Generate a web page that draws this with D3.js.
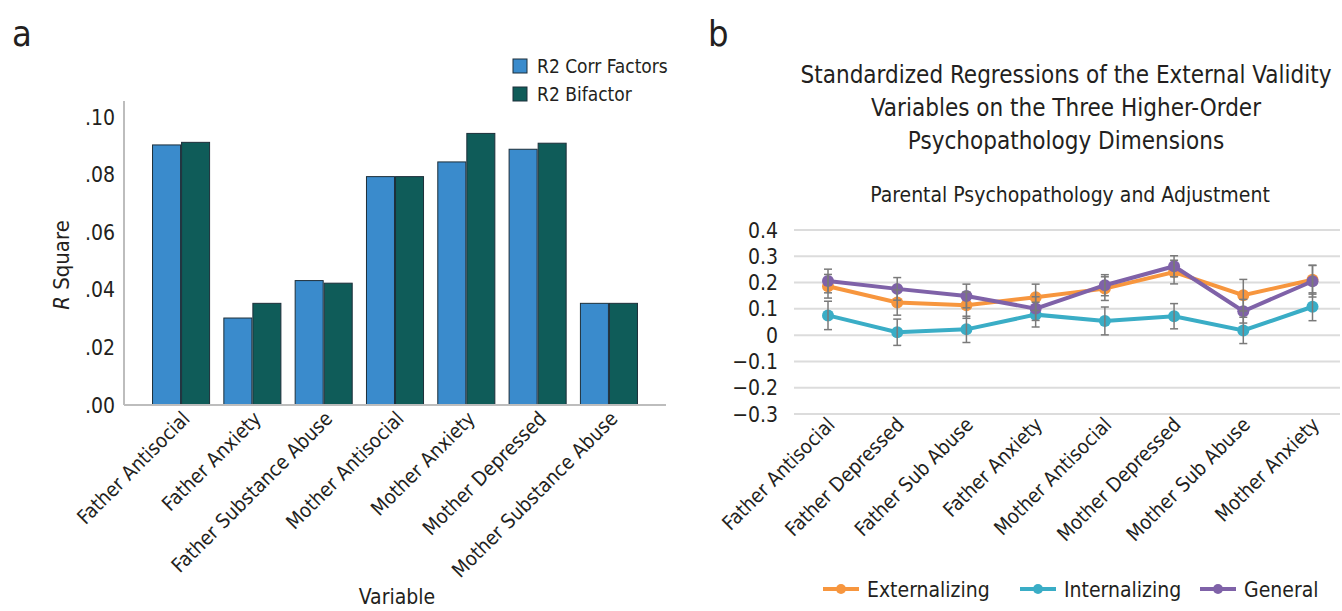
<!DOCTYPE html>
<html>
<head>
<meta charset="utf-8">
<script src="https://cdn.jsdelivr.net/npm/d3@7"></script>
<style>
  body { margin: 0; background: #fff; }
  text { font-family: "Liberation Sans Narrow", "DejaVu Sans Condensed", "Roboto", sans-serif; fill: #231f20; }
</style>
</head>
<body>
<div id="chart"></div>
<script>
// panel a data
var barCategories = ["Father Antisocial", "Father Anxiety", "Father Substance Abuse",
  "Mother Antisocial", "Mother Anxiety", "Mother Depressed", "Mother Substance Abuse"];
var barSeries = ["R2 Corr Factors", "R2 Bifactor"];
var r2Corr = [0.0903, 0.0302, 0.0432, 0.0793, 0.0844, 0.0888, 0.0353];
var r2Bifactor = [0.0912, 0.0353, 0.0423, 0.0793, 0.0943, 0.0909, 0.0353];
var barTicks = [0, 0.02, 0.04, 0.06, 0.08, 0.10];

// panel b data
var lineCategories = ["Father Antisocial", "Father Depressed", "Father Sub Abuse", "Father Anxiety",
  "Mother Antisocial", "Mother Depressed", "Mother Sub Abuse", "Mother Anxiety"];
var lineSeries = ["Externalizing", "Internalizing", "General"];
var externalizing = [0.186, 0.124, 0.114, 0.144, 0.177, 0.240, 0.152, 0.211];
var internalizing = [0.075, 0.011, 0.022, 0.078, 0.054, 0.072, 0.018, 0.108];
var general = [0.206, 0.176, 0.149, 0.101, 0.190, 0.262, 0.091, 0.205];
var externalizingErr = [0.045, 0.048, 0.05, 0.05, 0.045, 0.045, 0.06, 0.055];
var internalizingErr = [0.054, 0.05, 0.05, 0.047, 0.053, 0.048, 0.05, 0.053];
var generalErr = [0.045, 0.043, 0.045, 0.045, 0.04, 0.04, 0.045, 0.06];
var lineTicks = [0.4, 0.3, 0.2, 0.1, 0, -0.1, -0.2, -0.3];

var svg = d3.select("#chart").append("svg")
  .attr("width", 1342)
  .attr("height", 611);

// ---------- panel a ----------
var barColors = ["#3a8bcc", "#0f5c59"];

svg.append("text").attr("x", 12).attr("y", 46)
  .attr("font-size", "36px").text("a");

var xa = d3.scaleBand().domain(barCategories).range([124, 666]).paddingOuter(0.3).paddingInner(0);
var xaInner = d3.scaleBand().domain(barSeries).range([0, xa.bandwidth() * 0.8]).paddingInner(0.035);
var ya = d3.scaleLinear().domain([0, 0.10]).range([405, 117]);

// y axis line
svg.append("line").attr("x1", 124).attr("x2", 124).attr("y1", 101).attr("y2", 405)
  .attr("stroke", "#bdbdbd").attr("stroke-width", 2);

// y tick labels
svg.selectAll(".ya-tick").data(barTicks).enter().append("text")
  .attr("x", 115)
  .attr("y", function (d) { return ya(d); })
  .attr("dy", "0.36em")
  .attr("text-anchor", "end")
  .attr("font-size", "21px")
  .text(function (d) { return d3.format(".2f")(d).replace(/^0/, ""); });

var barData = [];
barCategories.forEach(function (c, i) {
  barData.push({ cat: c, series: barSeries[0], value: r2Corr[i], k: 0 });
  barData.push({ cat: c, series: barSeries[1], value: r2Bifactor[i], k: 1 });
});

svg.selectAll(".bar").data(barData).enter().append("rect")
  .attr("x", function (d) { return xa(d.cat) + xa.bandwidth() * 0.1 + xaInner(d.series); })
  .attr("y", function (d) { return ya(d.value); })
  .attr("width", xaInner.bandwidth())
  .attr("height", function (d) { return 405 - ya(d.value); })
  .attr("fill", function (d) { return barColors[d.k]; })
  .attr("stroke", "#1d2f3a")
  .attr("stroke-width", 1);

// x axis line
svg.append("line").attr("x1", 124).attr("x2", 666).attr("y1", 405).attr("y2", 405)
  .attr("stroke", "#bdbdbd").attr("stroke-width", 2);

// x tick labels
svg.selectAll(".xa-tick").data(barCategories).enter().append("text")
  .attr("text-anchor", "end")
  .attr("font-size", "20px")
  .attr("transform", function (d) {
    return "translate(" + (xa(d) + xa.bandwidth() / 2 + 10) + ",420) rotate(-45)";
  })
  .text(function (d) { return d; });

svg.append("text").attr("x", 397).attr("y", 604)
  .attr("text-anchor", "middle").attr("font-size", "21px").text("Variable");

var yTitle = svg.append("text")
  .attr("transform", "translate(69,265) rotate(-90)")
  .attr("text-anchor", "middle").attr("font-size", "22px");
yTitle.append("tspan").attr("font-style", "italic").text("R");
yTitle.append("tspan").text(" Square");

// legend a
var legA = svg.selectAll(".leg-a").data(barSeries).enter().append("g")
  .attr("transform", function (d, i) { return "translate(513," + (59 + i * 28) + ")"; });
legA.append("rect").attr("width", 14).attr("height", 14)
  .attr("fill", function (d, i) { return barColors[i]; })
  .attr("stroke", "#1d2f3a").attr("stroke-width", 1);
legA.append("text").attr("x", 24).attr("y", 7).attr("dy", "0.36em")
  .attr("font-size", "19px").text(function (d) { return d; });

// ---------- panel b ----------
var lineColors = ["#f7963e", "#3aadc6", "#7f62a8"];

svg.append("text").attr("x", 708).attr("y", 46)
  .attr("font-size", "36px").text("b");

var titleLines = ["Standardized Regressions of the External Validity",
  "Variables on the Three Higher-Order", "Psychopathology Dimensions"];
svg.selectAll(".title-b").data(titleLines).enter().append("text")
  .attr("x", 1066)
  .attr("y", function (d, i) { return 83 + i * 33; })
  .attr("text-anchor", "middle")
  .attr("font-size", "24px")
  .text(function (d) { return d; });

svg.append("text").attr("x", 1070).attr("y", 202)
  .attr("text-anchor", "middle").attr("font-size", "21px")
  .text("Parental Psychopathology and Adjustment");

var xb = d3.scalePoint().domain(lineCategories).range([828, 1312.5]);
var yb = d3.scaleLinear().domain([-0.3, 0.4]).range([414, 230]);

svg.selectAll(".grid-b").data(lineTicks).enter().append("line")
  .attr("x1", 794).attr("x2", 1340)
  .attr("y1", function (d) { return yb(d); })
  .attr("y2", function (d) { return yb(d); })
  .attr("stroke", "#dcdcdc").attr("stroke-width", 2);

svg.selectAll(".yb-tick").data(lineTicks).enter().append("text")
  .attr("x", 778)
  .attr("y", function (d) { return yb(d); })
  .attr("dy", "0.36em")
  .attr("text-anchor", "end")
  .attr("font-size", "21px")
  .text(function (d) { return d === 0 ? "0" : (d < 0 ? "\u2212" : "") + Math.abs(d).toFixed(1); });

svg.selectAll(".xb-tick").data(lineCategories).enter().append("text")
  .attr("text-anchor", "end")
  .attr("font-size", "20px")
  .attr("transform", function (d) {
    return "translate(" + (xb(d) + 8) + ",426) rotate(-45)";
  })
  .text(function (d) { return d; });

var seriesData = [
  { name: lineSeries[0], values: externalizing, err: externalizingErr, color: lineColors[0] },
  { name: lineSeries[1], values: internalizing, err: internalizingErr, color: lineColors[1] },
  { name: lineSeries[2], values: general, err: generalErr, color: lineColors[2] }
];

var line = d3.line()
  .x(function (d, i) { return xb(lineCategories[i]); })
  .y(function (d) { return yb(d); });

seriesData.forEach(function (s) {
  var g = svg.append("g");
  g.append("path").datum(s.values)
    .attr("d", line)
    .attr("fill", "none")
    .attr("stroke", s.color)
    .attr("stroke-width", 4);
  g.selectAll("circle").data(s.values).enter().append("circle")
    .attr("cx", function (d, i) { return xb(lineCategories[i]); })
    .attr("cy", function (d) { return yb(d); })
    .attr("r", 6)
    .attr("fill", s.color);
});

// error bars on top
seriesData.forEach(function (s) {
  var g = svg.append("g").attr("stroke", "#7a7a7a").attr("stroke-width", 1.5);
  s.values.forEach(function (v, i) {
    var x = xb(lineCategories[i]);
    var top = yb(v + s.err[i]), bot = yb(v - s.err[i]);
    g.append("line").attr("x1", x).attr("x2", x).attr("y1", top).attr("y2", bot);
    g.append("line").attr("x1", x - 4).attr("x2", x + 4).attr("y1", top).attr("y2", top);
    g.append("line").attr("x1", x - 4).attr("x2", x + 4).attr("y1", bot).attr("y2", bot);
  });
});

// legend b
var legX = [823, 1020, 1200];
var legB = svg.selectAll(".leg-b").data(seriesData).enter().append("g")
  .attr("transform", function (d, i) { return "translate(" + legX[i] + ",589)"; });
legB.append("line").attr("x1", 0).attr("x2", 36).attr("y1", 0).attr("y2", 0)
  .attr("stroke", function (d) { return d.color; }).attr("stroke-width", 4);
legB.append("circle").attr("cx", 18).attr("cy", 0).attr("r", 5)
  .attr("fill", function (d) { return d.color; });
legB.append("text").attr("x", 44).attr("dy", "0.36em")
  .attr("font-size", "21px").text(function (d) { return d.name; });
</script>
</body>
</html>
